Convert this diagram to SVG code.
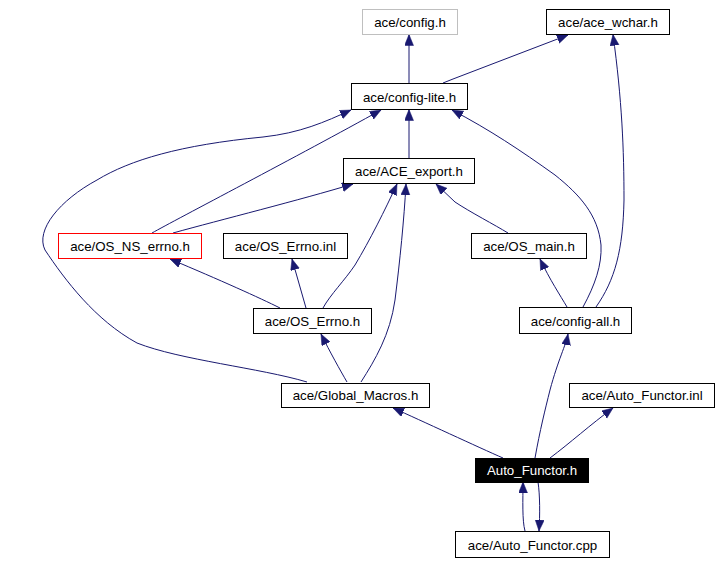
<svg xmlns="http://www.w3.org/2000/svg" width="720" height="564" viewBox="0 0 720 564">
<style>
.n rect{fill:#fff;stroke:#000;stroke-width:1}
.n text{font-family:"Liberation Sans",Arial,sans-serif;font-size:13.3px;text-anchor:middle;fill:#000}
#config_h rect{stroke:#bfbfbf}
#os_ns_errno rect{stroke:#ff0000}
#auto_functor_h rect{fill:#000}
#auto_functor_h text{fill:#fff}
.e path{fill:none;stroke:#191970;stroke-width:1;marker-end:url(#ah)}
</style>
<defs>
<marker id="ah" markerUnits="userSpaceOnUse" markerWidth="12" markerHeight="10" refX="11" refY="4.5" orient="auto">
<path d="M0,0 L11,4.5 L0,9 z" fill="#191970" stroke="#191970" stroke-width="0.5"/>
</marker>
</defs>
<rect width="720" height="564" fill="#fff"/>
<g id="edges" class="e">
<path d="M409,83 L409,34.5"/>
<path d="M443,83 L453,79 L568,35"/>
<path d="M409,158 L409,109.5"/>
<path d="M152,233 C175,220 300,155 381,110"/>
<path d="M173,233 C220,220 300,200 353,184"/>
<path d="M307,382 C260,368 180,360 137,343 C95,320 65,280 45,250 C35,230 60,200 97,180 C130,160 180,145 263,137 C300,133 325,122 351,110"/>
<path d="M280,308 C260,298 220,280 170,259"/>
<path d="M306,308 L292,259"/>
<path d="M323,308 C330,295 345,280 355,265 C370,240 385,210 397,184"/>
<path d="M347,382 C340,370 330,352 321,334"/>
<path d="M361,382 C375,360 390,335 395,300 C400,260 404,220 406,184"/>
<path d="M508,233 C495,225 470,212 455,202 L436,184"/>
<path d="M567,307 C560,295 550,280 540,259"/>
<path d="M583,307 C595,285 602,265 601,245 C598,215 580,195 555,175 C520,150 490,130 452,110"/>
<path d="M596,307 C615,280 623,250 624,200 C624,150 622,100 613,34.5"/>
<path d="M503,458 C480,448 420,420 393,408"/>
<path d="M535,458 C540,430 545,410 550,390 C558,360 566,345 568,334"/>
<path d="M550,458 C570,443 590,425 613,408"/>
<path d="M525,531 C522,520 523,500 523,482"/>
<path d="M538,482 C540,495 540,515 539,531"/>
</g>
<g id="config_h" class="n"><rect x="362.5" y="9.5" width="95" height="25"/><text x="410" y="26.5">ace/config.h</text></g>
<g id="ace_wchar_h" class="n"><rect x="546.5" y="9.5" width="123" height="25"/><text x="608" y="26.5">ace/ace_wchar.h</text></g>
<g id="config_lite_h" class="n"><rect x="351.5" y="83.5" width="116" height="26"/><text x="409.5" y="101.5">ace/config-lite.h</text></g>
<g id="ace_export_h" class="n"><rect x="343.5" y="158.5" width="131" height="25"/><text x="409" y="175.5">ace/ACE_export.h</text></g>
<g id="os_ns_errno" class="n"><rect x="58.5" y="233.5" width="143" height="25"/><text x="130" y="250.5">ace/OS_NS_errno.h</text></g>
<g id="os_errno_inl" class="n"><rect x="223.5" y="233.5" width="124" height="25"/><text x="285.5" y="250.5">ace/OS_Errno.inl</text></g>
<g id="os_main_h" class="n"><rect x="471.5" y="233.5" width="115" height="25"/><text x="529" y="250.5">ace/OS_main.h</text></g>
<g id="os_errno_h" class="n"><rect x="253.5" y="308.5" width="118" height="25"/><text x="312.5" y="325.5">ace/OS_Errno.h</text></g>
<g id="config_all_h" class="n"><rect x="519.5" y="307.5" width="112" height="26"/><text x="575.5" y="325.5">ace/config-all.h</text></g>
<g id="global_macros_h" class="n"><rect x="281.5" y="383.5" width="148" height="24"/><text x="355.5" y="400">ace/Global_Macros.h</text></g>
<g id="auto_functor_inl" class="n"><rect x="569.5" y="383.5" width="145" height="24"/><text x="642" y="400">ace/Auto_Functor.inl</text></g>
<g id="auto_functor_h" class="n"><rect x="475.5" y="458.5" width="113" height="24"/><text x="532" y="475">Auto_Functor.h</text></g>
<g id="auto_functor_cpp" class="n"><rect x="455.5" y="531.5" width="154" height="26"/><text x="532.5" y="549.5">ace/Auto_Functor.cpp</text></g>
</svg>
